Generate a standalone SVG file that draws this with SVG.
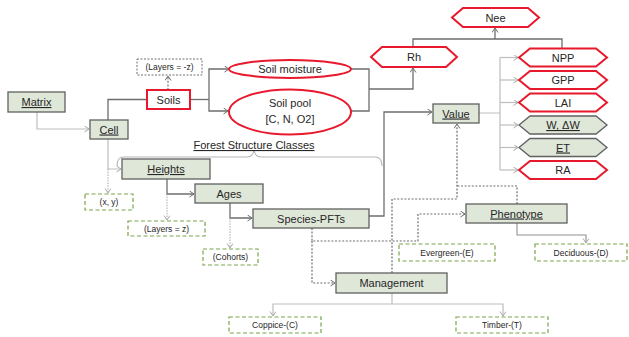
<svg xmlns="http://www.w3.org/2000/svg" width="629" height="337" viewBox="0 0 629 337">
<style>
text{font-family:"Liberation Sans",Arial,sans-serif;fill:#262626;text-anchor:middle}
.t{font-size:11px}
.s{font-size:8.5px}
.u{text-decoration:underline}
.box{fill:#dfe7d9;stroke:#606060;stroke-width:1.3}
.red{fill:#fff;stroke:#e8192c;stroke-width:2}
.gd{fill:#fff;stroke:#7aa44a;stroke-width:1.2;stroke-dasharray:4,2.5}
.kd{fill:#fff;stroke:#707070;stroke-width:1;stroke-dasharray:2,1.5}
.c{fill:none;stroke:#6e6e6e;stroke-width:1.3}
.cl{fill:none;stroke:#bdbdbd;stroke-width:1.2}
.cm{fill:none;stroke:#909090;stroke-width:1.1}
.cd{fill:none;stroke:#6e6e6e;stroke-width:1.2;stroke-dasharray:2,1.6}
.cld{fill:none;stroke:#a8a8a8;stroke-width:1;stroke-dasharray:1.5,1.2}
</style>
<defs>
<marker id="a" markerWidth="7" markerHeight="7" refX="5" refY="3" orient="auto" markerUnits="userSpaceOnUse"><path d="M0.5,0 L5,3 L0.5,6" fill="none" stroke="#6e6e6e" stroke-width="1"/></marker>
<marker id="al" markerWidth="7" markerHeight="7" refX="5" refY="3" orient="auto" markerUnits="userSpaceOnUse"><path d="M0.5,0 L5,3 L0.5,6" fill="none" stroke="#a8a8a8" stroke-width="1"/></marker>
</defs>

<g id="connectors">
<path class="cl" d="M37,112 V129 H89" marker-end="url(#al)"/>
<path class="c" d="M108,120 V99.5 H147"/>
<path class="cd" d="M168,90 V76" marker-end="url(#a)"/>
<path class="c" d="M190,99.5 H209"/>
<path class="c" d="M209,99.5 V69 H229" marker-end="url(#a)"/>
<path class="c" d="M209,99.5 V111 H228" marker-end="url(#a)"/>
<path class="c" d="M351,69 H369 V111 H351"/>
<path class="c" d="M369,89 H413 V68" marker-end="url(#a)"/>
<path class="c" d="M413,47 V39 H562 V49"/>
<path class="c" d="M495,39 V28" marker-end="url(#a)"/>
<path class="cl" d="M479,113 H500 M500,57.5 V170"/>
<path class="cl" d="M500,57.5 H518" marker-end="url(#al)"/>
<path class="cl" d="M500,80 H518" marker-end="url(#al)"/>
<path class="cl" d="M500,102.5 H518" marker-end="url(#al)"/>
<path class="cl" d="M500,125 H518" marker-end="url(#al)"/>
<path class="cl" d="M500,147.5 H518" marker-end="url(#al)"/>
<path class="cl" d="M500,170 H518" marker-end="url(#al)"/>
<path class="c" d="M369,216 H384 V112 H432" marker-end="url(#a)"/>
<path class="cl" d="M108,139 V169 H121" marker-end="url(#al)"/>
<path class="cld" d="M108,169 V193" marker-end="url(#al)"/>
<path class="c" d="M167,179 V194 H194" marker-end="url(#a)"/>
<path class="cld" d="M167,194 V220" marker-end="url(#al)"/>
<path class="c" d="M230,203 V218 H252" marker-end="url(#a)"/>
<path class="cld" d="M230,218 V248" marker-end="url(#al)"/>
<path class="cd" d="M312,228 V241 H418 V214 H465" marker-end="url(#a)"/>
<path class="cd" d="M312,241 V283 H335" marker-end="url(#a)"/>
<path class="cd" d="M392,273 V199 H457 V124" marker-end="url(#a)"/>
<path class="cd" d="M517,204 V186 H457"/>
<path class="cm" d="M517,223 V235 H586 V243" marker-end="url(#al)"/>
<path class="cl" d="M392,293 V304 H273 V316" marker-end="url(#al)"/>
<path class="cl" d="M392,304 H503 V316" marker-end="url(#al)"/>
<path fill="none" stroke="#b5b5b5" stroke-width="1.1" d="M117,166 Q117,157 124,157 H247 Q253,157 254,150 Q255,157 261,157 H375 Q382,157 382,166"/>
</g>

<g id="matrix"><rect class="box" x="8" y="92" width="57" height="20"/><text class="t u" x="36.5" y="106">Matrix</text></g>
<g id="cell"><rect class="box" x="90" y="120" width="38" height="19"/><text class="t u" x="109" y="133.5">Cell</text></g>
<g id="soils"><rect class="red" x="147" y="90" width="43" height="19"/><text class="t" x="168.5" y="103.5">Soils</text></g>
<g id="layers-neg-z"><rect class="kd" x="137" y="59" width="65" height="16"/><text class="s" x="169.5" y="70">(Layers = -z)</text></g>
<g id="soil-moisture"><ellipse class="red" cx="290" cy="69" rx="61" ry="9"/><text class="t" x="290" y="73">Soil moisture</text></g>
<g id="soil-pool"><ellipse class="red" cx="290" cy="112" rx="61" ry="22.5"/><text class="t" x="290" y="107">Soil pool</text><text class="t" x="290" y="123">[C, N, O2]</text></g>
<g id="rh"><polygon class="red" points="371,57 382,47 446,47 457,57 446,67 382,67"/><text class="t" x="414" y="61">Rh</text></g>
<g id="nee"><polygon class="red" points="452,17.5 463,8 528,8 539,17.5 528,27 463,27"/><text class="t" x="495.5" y="21.5">Nee</text></g>
<g id="npp"><polygon class="red" points="519,57.5 530,48.5 596,48.5 607,57.5 596,66.5 530,66.5"/><text class="t" x="563" y="61.5">NPP</text></g>
<g id="gpp"><polygon class="red" points="519,80 530,71 596,71 607,80 596,89 530,89"/><text class="t" x="563" y="84">GPP</text></g>
<g id="lai"><polygon class="red" points="519,102.5 530,93.5 596,93.5 607,102.5 596,111.5 530,111.5"/><text class="t" x="563" y="106.5">LAI</text></g>
<g id="w"><polygon class="box" points="519,125 530,116 596,116 607,125 596,134 530,134"/><text class="t u" x="563" y="129">W, ΔW</text></g>
<g id="et"><polygon class="box" points="519,147.5 530,138.5 596,138.5 607,147.5 596,156.5 530,156.5"/><text class="t u" x="563" y="151.5">ET</text></g>
<g id="ra"><polygon class="red" points="519,170 530,161 596,161 607,170 596,179 530,179"/><text class="t" x="563" y="174">RA</text></g>
<g id="value"><rect class="box" x="433" y="104" width="46" height="19"/><text class="t u" x="456" y="117.5">Value</text></g>
<g id="forest-label"><text class="t u" x="254" y="149">Forest Structure Classes</text></g>
<g id="heights"><rect class="box" x="122" y="159" width="88" height="20"/><text class="t u" x="166" y="173">Heights</text></g>
<g id="ages"><rect class="box" x="195" y="184" width="68" height="19"/><text class="t" x="229" y="197.5">Ages</text></g>
<g id="species"><rect class="box" x="253" y="209" width="116" height="19"/><text class="t" x="311" y="222.5">Species-PFTs</text></g>
<g id="xy"><rect class="gd" x="85" y="194" width="48" height="16"/><text class="s" x="109" y="205">(x, y)</text></g>
<g id="layers-z"><rect class="gd" x="128" y="221" width="77" height="15"/><text class="s" x="166.5" y="231.5">(Layers = z)</text></g>
<g id="cohorts"><rect class="gd" x="203" y="249" width="55" height="16"/><text class="s" x="230.5" y="260">(Cohorts)</text></g>
<g id="phenotype"><rect class="box" x="466" y="204" width="101" height="19"/><text class="t u" x="516.5" y="217.5">Phenotype</text></g>
<g id="evergreen"><rect class="gd" x="399" y="244" width="96" height="17"/><text class="s" x="447" y="255.5">Evergreen-(E)</text></g>
<g id="deciduous"><rect class="gd" x="535" y="244" width="92" height="17"/><text class="s" x="581" y="255.5">Deciduous-(D)</text></g>
<g id="management"><rect class="box" x="336" y="273" width="111" height="20"/><text class="t" x="391.5" y="287">Management</text></g>
<g id="coppice"><rect class="gd" x="229" y="317" width="92" height="16"/><text class="s" x="275" y="328">Coppice-(C)</text></g>
<g id="timber"><rect class="gd" x="456" y="317" width="92" height="16"/><text class="s" x="502" y="328">Timber-(T)</text></g>
</svg>
